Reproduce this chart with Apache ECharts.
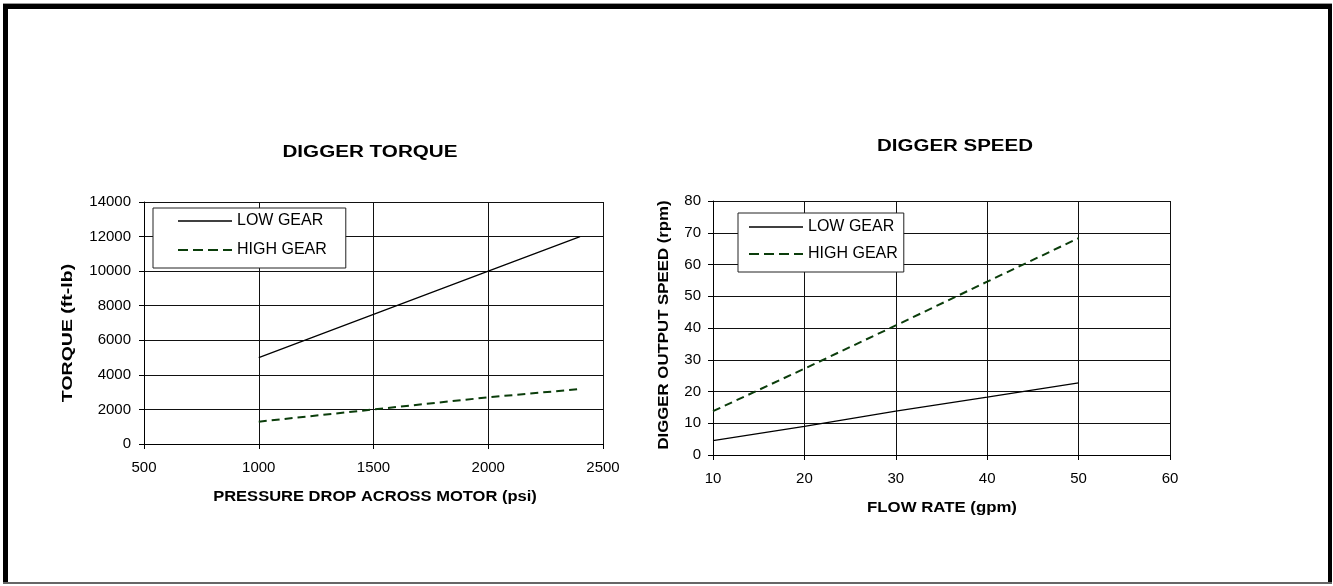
<!DOCTYPE html>
<html>
<head>
<meta charset="utf-8">
<style>
html,body{margin:0;padding:0;background:#fff;}
#chart{width:1333px;height:586px;}
</style>
<script src="https://cdn.jsdelivr.net/npm/echarts@6/dist/echarts.min.js"></script>
</head>
<body>
<div id="chart"></div>
<script>
// ---- data ----
const torquePsi = [1000, 1500, 2000, 2400];
const torqueLow = [5000, 7500, 10000, 12000];
const torqueHigh = [1290, 2000, 2700, 3180];
const flowGpm = [10, 20, 30, 40, 50];
const speedLow = [4.5, 9.0, 13.8, 18.2, 22.7];
const speedHigh = [13.8, 27.2, 40.8, 54.6, 68.3];
const seriesNames = ['LOW GEAR', 'HIGH GEAR'];
const titles = ['DIGGER TORQUE', 'DIGGER SPEED'];
const xNames = ['PRESSURE DROP ACROSS MOTOR (psi)', 'FLOW RATE (gpm)'];
const yNames = ['TORQUE (ft-lb)', 'DIGGER OUTPUT SPEED (rpm)'];

const FONT = '"Liberation Sans", Arial, sans-serif';
const LOW_COLOR = '#000000';
const HIGH_COLOR = '#0b3d0b';

function pairs(xs, ys) { return xs.map((x, i) => [x, ys[i]]); }

function label(margin) {
  return { color: '#000', fontSize: 15, fontFamily: FONT, margin: margin, formatter: function (v) { return String(v); } };
}

function axisCommon(extra) {
  return Object.assign({
    type: 'value',
    axisLine: { show: true, lineStyle: { color: '#000', width: 1 } },
    axisTick: { show: true, inside: false, length: 5, lineStyle: { color: '#000', width: 1 } },
    splitLine: { show: true, lineStyle: { color: '#111', width: 1 } }
  }, extra);
}

function txt(text, x, y, size, sx, rot) {
  return {
    type: 'text', x: x, y: y, scaleX: sx, rotation: rot || 0, silent: true,
    style: {
      text: text, x: 0, y: 0, fill: '#000',
      font: 'bold ' + size + 'px ' + FONT,
      align: 'center', verticalAlign: 'middle',
      textAlign: 'center', textVerticalAlign: 'middle'
    }
  };
}

function legendBox(left, top, padding, gap) {
  return {
    data: [
      { name: seriesNames[0], lineStyle: { width: 1.4, type: 'solid', color: LOW_COLOR } },
      { name: seriesNames[1], lineStyle: { width: 2, type: [10, 5], color: HIGH_COLOR } }
    ],
    orient: 'vertical', left: left, top: top,
    padding: padding, itemWidth: 54, itemHeight: 14, itemGap: gap,
    itemStyle: { opacity: 0, borderWidth: 0 },
    borderColor: '#222', borderWidth: 1, backgroundColor: '#fff',
    textStyle: { color: '#000', fontSize: 16, fontFamily: FONT }, selectedMode: false
  };
}

function lineSeries(name, xi, xs, ys, color, width, type) {
  return {
    name: name, type: 'line', xAxisIndex: xi, yAxisIndex: xi,
    symbol: 'none', showSymbol: false, legendIcon: 'none',
    data: pairs(xs, ys),
    lineStyle: { color: color, width: width, type: type },
    itemStyle: { color: color }
  };
}

const chart = echarts.init(document.getElementById('chart'), null, { renderer: 'canvas' });
const option = {
  animation: false,
  backgroundColor: '#fff',
  grid: [
    { left: 144, top: 202, width: 459, height: 242 },
    { left: 713, top: 201, width: 457, height: 254 }
  ],
  xAxis: [
    axisCommon({ gridIndex: 0, min: 500, max: 2500, interval: 500, axisLabel: label(16) }),
    axisCommon({ gridIndex: 1, min: 10, max: 60, interval: 10, axisLabel: label(16) })
  ],
  yAxis: [
    axisCommon({ gridIndex: 0, min: 0, max: 14000, interval: 2000, axisLabel: label(13) }),
    axisCommon({ gridIndex: 1, min: 0, max: 80, interval: 10, axisLabel: label(12) })
  ],
  legend: [
    legendBox(153, 208, [5, 19, 10, 24], 13),
    legendBox(738, 213, [6, 6, 10, 10], 11)
  ],
  series: [
    lineSeries(seriesNames[0], 0, torquePsi, torqueLow, LOW_COLOR, 1.2, 'solid'),
    lineSeries(seriesNames[1], 0, torquePsi, torqueHigh, HIGH_COLOR, 2, [8, 5]),
    lineSeries(seriesNames[0], 1, flowGpm, speedLow, LOW_COLOR, 1.2, 'solid'),
    lineSeries(seriesNames[1], 1, flowGpm, speedHigh, HIGH_COLOR, 2, [8, 5])
  ],
  graphic: [
    // frame
    { type: 'rect', silent: true, shape: { x: 3, y: 3, width: 1329, height: 1 }, style: { fill: '#999' } },
    { type: 'rect', silent: true, shape: { x: 3, y: 4, width: 1329, height: 5 }, style: { fill: '#000' } },
    { type: 'rect', silent: true, shape: { x: 3, y: 4, width: 5, height: 580 }, style: { fill: '#000' } },
    { type: 'rect', silent: true, shape: { x: 1328, y: 4, width: 4, height: 580 }, style: { fill: '#000' } },
    { type: 'rect', silent: true, shape: { x: 3, y: 582, width: 1329, height: 2 }, style: { fill: '#666' } },
    // titles & axis names
    txt(titles[0], 370, 153, 16, 1.29),
    txt(titles[1], 955, 147, 16, 1.28),
    txt(xNames[0], 375, 497, 14, 1.18),
    txt(xNames[1], 942, 508, 14, 1.2),
    txt(yNames[0], 68, 333, 15, 1.3, Math.PI / 2),
    txt(yNames[1], 664, 325, 15, 1.12, Math.PI / 2)
  ]
};
chart.setOption(option);
</script>
</body>
</html>
